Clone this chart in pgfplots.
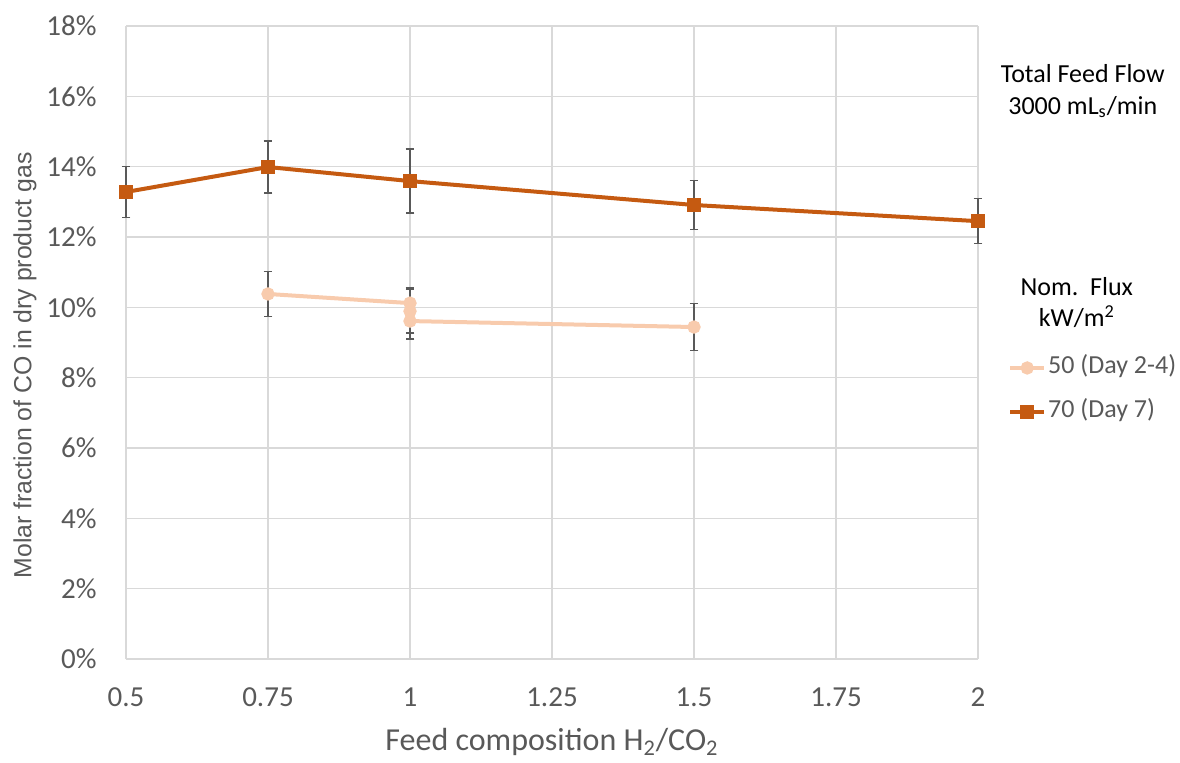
\documentclass[border=0pt]{standalone}
\usepackage{fontspec}
\setmainfont{Carlito}
\newfontfamily\arialfont{Liberation Sans}
\usepackage{pgfplots}
\pgfplotsset{compat=1.18}
\definecolor{dark}{HTML}{C55A11}
\definecolor{light}{HTML}{F8CBAD}
\definecolor{txt}{HTML}{595959}
\definecolor{grd}{HTML}{D9D9D9}
\begin{document}
\begin{tikzpicture}
\path (-63bp,-50.5bp) rectangle (527bp,329.5bp);
\begin{axis}[
  at={(0,0)}, anchor=south west,
  scale only axis, width=426bp, height=316.5bp,
  xmin=0.5, xmax=2, ymin=0, ymax=18,
  axis line style={draw=none},
  grid=major, major grid style={grd, line width=0.6bp},
  tick style={draw=none},
  xtick={0.5,0.75,1,1.25,1.5,1.75,2},
  xticklabels={0.5,0.75,1,1.25,1.5,1.75,2},
  ytick={0,2,4,6,8,10,12,14,16,18},
  yticklabels={0\%,2\%,4\%,6\%,8\%,10\%,12\%,14\%,16\%,18\%},
  ticklabel style={font=\fontsize{14.5bp}{17bp}\selectfont, text=txt, inner sep=0pt},
  xticklabel style={anchor=center, yshift=-19.25bp},
  yticklabel style={anchor=east, xshift=-14.5bp},
  xlabel={Feed composition H\textsubscript{2}/CO\textsubscript{2}},
  ylabel={Molar fraction of CO in dry product gas},
  xlabel style={font=\fontsize{16bp}{19bp}\selectfont, text=txt,
    at={(axis description cs:0.5,-0.131)}, anchor=center},
  ylabel style={font=\arialfont\fontsize{12.4bp}{15bp}\selectfont, text=txt,
    at={(axis description cs:-0.1185,0.464)}, anchor=center, rotate=0},
  clip=false,
  legend style={at={(rel axis cs:1.035,0.425)}, anchor=west, draw=none, fill=none,
    font=\fontsize{13bp}{15bp}\selectfont, text=txt, row sep=8bp,
    inner sep=0pt, nodes={inner sep=1bp, text height=9bp, text depth=3bp}},
  legend cell align=left,
  legend image code/.code={\draw[#1] (0bp,0bp) -- (17bp,0bp); \path[#1, mark repeat=1] plot coordinates {(8.5bp,0bp)};},
  error bars/error bar style={txt, line width=0.6bp},
  error bars/error mark options={rotate=90, mark size=2.2bp, line width=0.6bp, txt},
]
\addplot[light, line width=2bp, mark=*, mark size=2.3bp, mark options={fill=light, draw=light},
  error bars/.cd, y dir=both, y explicit]
  table[x=x, y=y, y error=e] {
x y e
0.75 10.38 0.64
1 10.12 0.43
1 9.89 0.62
1 9.61 0.51
1.5 9.44 0.67
};
\addlegendentry{50 (Day 2-4)}
\addplot[dark, line width=2bp, mark=square*, mark size=2.5bp, mark options={fill=dark, draw=dark},
  error bars/.cd, y dir=both, y explicit]
  table[x=x, y=y, y error=e] {
x y e
0.5 13.28 0.72
0.75 13.99 0.74
1 13.59 0.91
1.5 12.91 0.70
2 12.45 0.64
};
\addlegendentry{70 (Day 7)}
\node[font=\fontsize{13bp}{16bp}\selectfont, align=center, anchor=center] at (rel axis cs:1.123,0.897) {Total Feed Flow\\3000 mL\textsubscript{s}/min};
\node[font=\fontsize{13bp}{15.5bp}\selectfont, align=center, anchor=center] at (rel axis cs:1.116,0.563) {Nom.\ \ Flux\\kW/m\textsuperscript{2}};
\end{axis}
\end{tikzpicture}
\end{document}
